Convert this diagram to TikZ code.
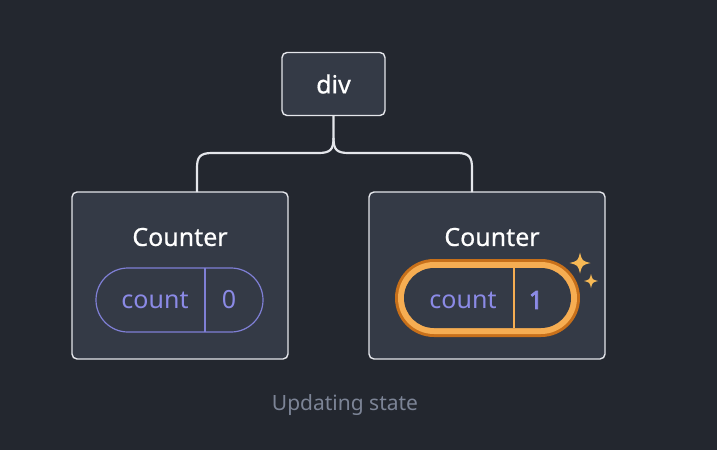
\documentclass[tikz,border=0pt]{standalone}
\usepackage{fontspec}
\setmainfont{Noto Sans}
\newfontfamily\boldone[FakeBold=3]{Noto Sans}
\newfontfamily\medfont[FakeBold=0.6]{Noto Sans}
\definecolor{bg}{HTML}{23272F}
\definecolor{boxfill}{HTML}{343A46}
\definecolor{boxline}{HTML}{E4E6EB}
\definecolor{purp}{HTML}{8B8AE6}
\definecolor{purpline}{HTML}{7F7FD5}
\definecolor{orgdark}{HTML}{C8701A}
\definecolor{orglight}{HTML}{F6AD52}
\definecolor{spark}{HTML}{F7B955}
\definecolor{caption}{HTML}{7C8496}
\tikzset{
  cbox/.style={draw=boxline, line width=1.4pt, fill=boxfill, rounded corners=5pt, inner sep=0pt},
  pillbox/.style={draw=purpline, line width=1.2pt, rounded corners=32pt, minimum height=64pt, inner sep=0pt},
  wire/.style={draw=boxline, line width=2.2pt},
  lbl/.style={text=white, font=\medfont\fontsize{25}{28}\selectfont},
  cnt/.style={text=purp, font=\fontsize{25}{28}\selectfont},
}
\begin{document}
\begin{tikzpicture}[x=1pt,y=-1pt]
\fill[bg] (0,0) rectangle (717,450);
\useasboundingbox (0,0) rectangle (717,450);

% boxes
\node[cbox, minimum width=103pt, minimum height=63pt] (div) at (333.5,84) {};
\node[lbl] (divt) at (333.5,84) {div};
\node[cbox, minimum width=216pt, minimum height=167pt] (left) at (180,275.5) {};
\node[cbox, minimum width=236pt, minimum height=167pt] (right) at (487,275.5) {};

% connectors
\coordinate (lt) at (197,192);
\coordinate (rt) at (472,192);
\draw[wire] (div.south) -- (333.5,138) .. controls (333.5,150) and (330,153) .. (318,153)
  -- (212,153) .. controls (200,153) and (197,157) .. (197,168) -- (lt);
\draw[wire] (333.5,138) .. controls (333.5,150) and (337,153) .. (349,153)
  -- (457,153) .. controls (469,153) and (472,157) .. (472,168) -- (rt);

% left counter
\node[lbl] (lc) at (180,237) {Counter};
\node[pillbox, minimum width=167pt] (lpill) at (179.5,300) {};
\draw[draw=purpline, line width=1.2pt] (205,268) -- (205,332);
\node[cnt] (lcount) at (155,300) {count};
\node[cnt] (lval) at (229,300) {0};

% right counter
\node[lbl] (rc) at (492,237) {Counter};
\node[fill=orgdark, rounded corners=39pt, minimum width=185pt, minimum height=78pt, inner sep=0pt] (rpill) at (487.5,298) {};
\node[fill=orglight, rounded corners=36pt, minimum width=179pt, minimum height=72pt, inner sep=0pt] (rpill2) at (487.5,298) {};
\node[fill=boxfill, rounded corners=30pt, minimum width=167pt, minimum height=60pt, inner sep=0pt] (rpill3) at (487.5,298) {};
\draw[draw=orglight, line width=2pt] (514,268) -- (514,328);
\node[cnt] (rcount) at (463,300) {count};
\node[cnt, font=\boldone\fontsize{25}{28}\selectfont] (rval) at (536,300) {1};

% sparkles
\foreach \cx/\cy/\r in {580/263/10.5, 591/281/7}{
  \fill[spark] (\cx,\cy-\r) .. controls (\cx+0.2*\r,\cy-0.2*\r) .. (\cx+\r,\cy)
    .. controls (\cx+0.2*\r,\cy+0.2*\r) .. (\cx,\cy+\r)
    .. controls (\cx-0.2*\r,\cy+0.2*\r) .. (\cx-\r,\cy)
    .. controls (\cx-0.2*\r,\cy-0.2*\r) .. cycle;
}

% caption
\node[text=caption, font=\fontsize{21}{24}\selectfont] (cap) at (345,405) {Updating state};
\end{tikzpicture}
\end{document}
